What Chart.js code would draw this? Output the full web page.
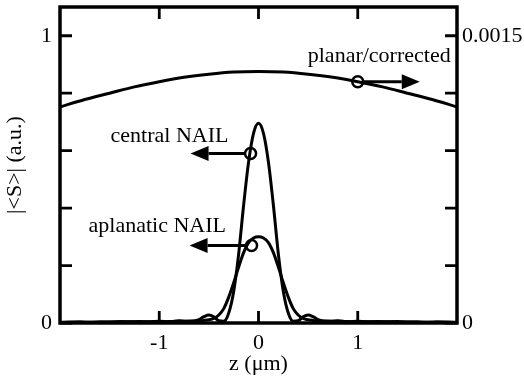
<!DOCTYPE html>
<html>
<head>
<meta charset="utf-8">
<script src="https://cdn.jsdelivr.net/npm/chart.js@4.4.0/dist/chart.umd.min.js"></script>
<style>
  html, body { margin: 0; padding: 0; background: #fff; }
  #wrap { width: 524px; height: 383px; }
</style>
</head>
<body>
<div id="wrap"><canvas id="chart"></canvas></div>
<script>
// planar/corrected curve (right axis)
const zPlanar = [-2, -1.75, -1.5, -1.25, -1, -0.75, -0.5, -0.25, 0, 0.25, 0.5, 0.75, 1, 1.25, 1.5, 1.75, 2];
const planar = [0.001128, 0.001167, 0.00120, 0.001233, 0.00126, 0.001283, 0.001299, 0.00131, 0.001313,
  0.00131, 0.001299, 0.001283, 0.00126, 0.001233, 0.00120, 0.001167, 0.001128];

// NAIL curves (left axis)
const zNail = [-2, -1.8, -1.6, -1.4, -1.2, -1, -0.9, -0.8, -0.7, -0.6, -0.55, -0.5, -0.45, -0.4, -0.35, -0.3,
  -0.25, -0.2, -0.15, -0.1, -0.05, 0, 0.05, 0.1, 0.15, 0.2, 0.25, 0.3, 0.35, 0.4, 0.45, 0.5, 0.55, 0.6,
  0.7, 0.8, 0.9, 1, 1.2, 1.4, 1.6, 1.8, 2];
const central = [0.002, 0.004, 0.002, 0.005, 0.003, 0.006, 0.004, 0.008, 0.005, 0.012, 0.022, 0.028, 0.022, 0.008, 0.006, 0.035,
  0.11, 0.24, 0.41, 0.56, 0.66, 0.695, 0.66, 0.56, 0.41, 0.24, 0.11, 0.035, 0.006, 0.008, 0.022, 0.028, 0.022, 0.012,
  0.005, 0.008, 0.004, 0.006, 0.003, 0.005, 0.002, 0.004, 0.002];
const aplanatic = [0.003, 0.002, 0.004, 0.003, 0.005, 0.004, 0.005, 0.006, 0.007, 0.008, 0.009, 0.011, 0.016, 0.028, 0.05, 0.09,
  0.14, 0.195, 0.245, 0.28, 0.296, 0.3, 0.296, 0.28, 0.245, 0.195, 0.14, 0.09, 0.05, 0.028, 0.016, 0.011, 0.009, 0.008,
  0.007, 0.006, 0.005, 0.004, 0.005, 0.003, 0.004, 0.002, 0.003];

// ticks
const xTicks = [-1, 0, 1];
const yTicks = [0, 0.2, 0.4, 0.6, 0.8, 1];
const yLabels = { 0: '0', 1: '1' };
const y2Ticks = [0, 0.0003, 0.0006, 0.0009, 0.0012, 0.0015];
const y2Labels = ['0', '', '', '', '', '0.0015'];

Chart.defaults.font.family = "'Liberation Serif', 'Times New Roman', serif";
Chart.defaults.font.size = 22;
Chart.defaults.color = '#000';

const pts = (xs, ys) => xs.map((x, i) => ({ x: x, y: ys[i] }));

// frame, inward ticks and callouts
const decor = {
  id: 'decor',
  afterDraw(chart) {
    const { ctx, chartArea: a, scales } = chart;
    const tl = 12;
    ctx.save();
    ctx.strokeStyle = '#000';
    ctx.fillStyle = '#000';
    ctx.lineWidth = 2.8;
    ctx.beginPath();
    xTicks.forEach(v => {
      const px = scales.x.getPixelForValue(v);
      ctx.moveTo(px, a.bottom); ctx.lineTo(px, a.bottom - tl);
      ctx.moveTo(px, a.top); ctx.lineTo(px, a.top + tl);
    });
    yTicks.forEach(v => {
      const py = scales.y.getPixelForValue(v);
      ctx.moveTo(a.left, py); ctx.lineTo(a.left + tl, py);
    });
    y2Ticks.forEach(v => {
      const py = scales.y2.getPixelForValue(v);
      ctx.moveTo(a.right, py); ctx.lineTo(a.right - tl, py);
    });
    ctx.stroke();
    ctx.lineWidth = 3.5;
    ctx.strokeRect(a.left, a.top, a.right - a.left, a.bottom - a.top);

    const notes = [
      { text: 'planar/corrected', z: 1, v: 0.00126, axis: 'y2', dir: 1, len: 62, tx: -50, ty: -20 },
      { text: 'central NAIL', z: -0.08, v: 0.59, axis: 'y', dir: -1, len: 60, tx: -140, ty: -12 },
      { text: 'aplanatic NAIL', z: -0.07, v: 0.27, axis: 'y', dir: -1, len: 62, tx: -163, ty: -13 }
    ];
    ctx.font = "22px 'Liberation Serif', serif";
    ctx.textBaseline = 'alphabetic';
    ctx.textAlign = 'left';
    notes.forEach(n => {
      const cx = scales.x.getPixelForValue(n.z);
      const cy = scales[n.axis].getPixelForValue(n.v);
      const tip = cx + n.dir * n.len;
      const base = tip - n.dir * 18;
      ctx.lineWidth = 3;
      ctx.beginPath();
      ctx.moveTo(cx + n.dir * 5, cy); ctx.lineTo(base, cy);
      ctx.stroke();
      ctx.beginPath();
      ctx.moveTo(tip, cy); ctx.lineTo(base, cy - 7.5); ctx.lineTo(base, cy + 7.5); ctx.closePath();
      ctx.fill();
      ctx.lineWidth = 2.5;
      ctx.beginPath();
      ctx.arc(cx, cy, 5.5, 0, Math.PI * 2);
      ctx.stroke();
      ctx.fillText(n.text, cx + n.tx, cy + n.ty);
    });
    ctx.restore();
  }
};

const noPad = s => { s.paddingTop = 0; s.paddingBottom = 0; };

new Chart(document.getElementById('chart'), {
  type: 'line',
  data: {
    datasets: [
      { label: 'planar/corrected', data: pts(zPlanar, planar), yAxisID: 'y2' },
      { label: 'central NAIL', data: pts(zNail, central), yAxisID: 'y' },
      { label: 'aplanatic NAIL', data: pts(zNail, aplanatic), yAxisID: 'y' }
    ].map(d => Object.assign(d, {
      borderColor: '#000', borderWidth: 3, pointRadius: 0, fill: false,
      cubicInterpolationMode: 'monotone'
    }))
  },
  options: {
    responsive: true,
    maintainAspectRatio: false,
    animation: false,
    layout: { padding: { top: 7, left: 0, right: 0, bottom: 0 } },
    plugins: { legend: { display: false }, tooltip: { enabled: false } },
    scales: {
      x: {
        type: 'linear', min: -2, max: 2,
        grid: { display: false, drawTicks: false }, border: { display: false },
        afterBuildTicks: s => { s.ticks = xTicks.map(v => ({ value: v })); },
        afterFit: s => { s.height = 60; s.paddingLeft = 0; s.paddingRight = 0; },
        ticks: { padding: 7, autoSkip: false, maxRotation: 0, callback: v => String(v) },
        title: { display: true, text: 'z (μm)', padding: { bottom: 6 }, font: { size: 22, lineHeight: 1.2 } }
      },
      y: {
        type: 'linear', position: 'left', min: 0, max: 1.1,
        grid: { display: false, drawTicks: false }, border: { display: false },
        afterBuildTicks: s => { s.ticks = yTicks.map(v => ({ value: v })); },
        afterFit: s => { s.width = 60; noPad(s); },
        ticks: { padding: 8, autoSkip: false, callback: v => yLabels[v] || '' },
        title: { display: true, text: '|<S>| (a.u.)', padding: { top: 2 }, font: { size: 22, lineHeight: 1.2 } }
      },
      y2: {
        type: 'linear', position: 'right', min: 0, max: 0.00165,
        grid: { display: false, drawTicks: false }, border: { display: false },
        afterBuildTicks: s => { s.ticks = y2Ticks.map(v => ({ value: v })); },
        afterFit: s => { s.width = 67; noPad(s); },
        ticks: { padding: 5, autoSkip: false, callback: (v, i) => y2Labels[i] }
      }
    }
  },
  plugins: [decor]
});
</script>
</body>
</html>
